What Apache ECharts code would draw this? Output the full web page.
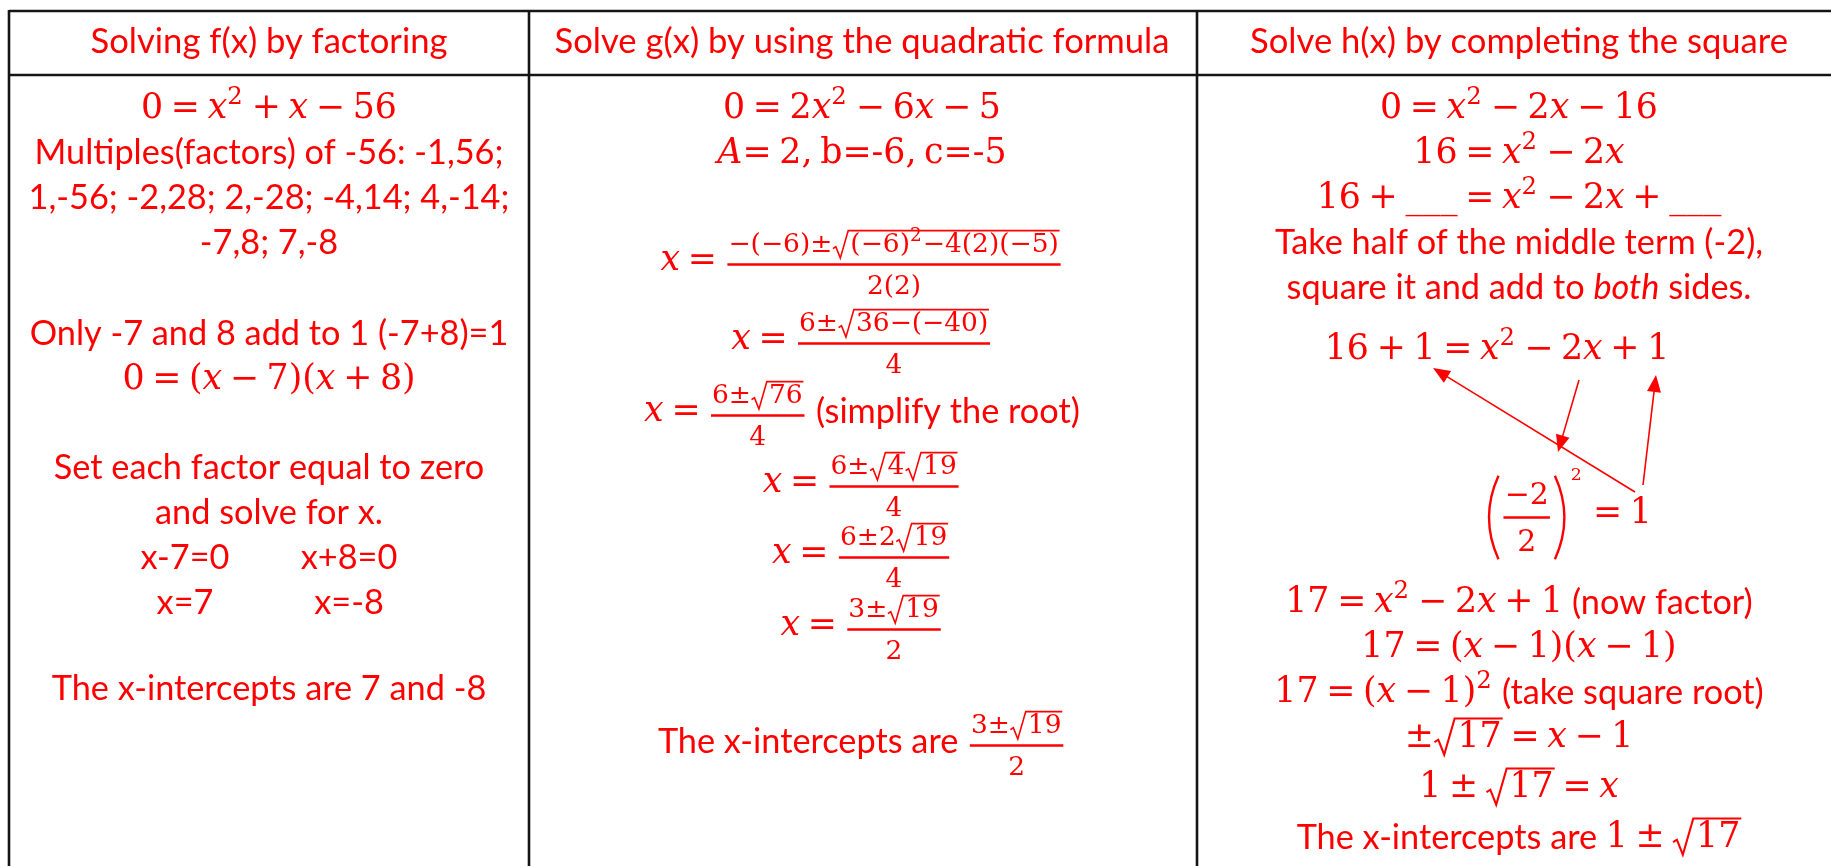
<!DOCTYPE html>
<html>
<head>
<meta charset="utf-8">
<script src="https://cdn.jsdelivr.net/npm/echarts@6/dist/echarts.min.js"></script>
<style>
html, body { margin: 0; padding: 0; background: #fff; }
#chart { width: 1831px; height: 866px; }
</style>
</head>
<body>
<div id="chart"></div>
<script>
// ---- table content ----
var headers = ['Solving f(x) by factoring', 'Solve g(x) by using the quadratic formula', 'Solve h(x) by completing the square'];

// plain string = text, {m} = math (x^2, √{..}), {f:[num,den]} = fraction, {i} = italic text
var factoringLines = [
	{m: '0 = x^2 + x − 56'},
	'Multiples(factors) of -56: -1,56;',
	'1,-56; -2,28; 2,-28; -4,14; 4,-14;',
	'-7,8; 7,-8',
	'Only -7 and 8 add to 1 (-7+8)=1',
	{m: '0 = (x − 7)(x + 8)'},
	'Set each factor equal to zero',
	'and solve for x.',
	{pair: ['x-7=0', 'x+8=0']},
	{pair: ['x=7', 'x=-8']},
	'The x-intercepts are 7 and -8'
];

var formulaLines = [
	{m: '0 = 2x^2 − 6x − 5'},
	{m: 'A= 2, b=-6, c=-5'},
	[{m: 'x = '}, {f: ['−(−6)±√{(−6)^2−4(2)(−5)}', '2(2)']}],
	[{m: 'x = '}, {f: ['6±√{36−(−40)}', '4']}],
	[{m: 'x = '}, {f: ['6±√{76}', '4']}, ' (simplify the root)'],
	[{m: 'x = '}, {f: ['6±√{4}√{19}', '4']}],
	[{m: 'x = '}, {f: ['6±2√{19}', '4']}],
	[{m: 'x = '}, {f: ['3±√{19}', '2']}],
	['The x-intercepts are ', {f: ['3±√{19}', '2']}]
];

var squareLines = [
	{m: '0 = x^2 − 2x − 16'},
	{m: '16 = x^2 − 2x'},
	{m: '16 + ___ = x^2 − 2x + ___'},
	'Take half of the middle term (-2),',
	['square it and add to ', {i: 'both'}, ' sides.'],
	{m: '16 + 1 = x^2 − 2x + 1'},
	[{lp: 1}, {f: ['−2', '2'], big: 1}, {rp: 1}, {bigSup: '2'}, {m: ' = 1'}],
	[{m: '17 = x^2 − 2x + 1'}, ' (now factor)'],
	{m: '17 = (x − 1)(x − 1)'},
	[{m: '17 = (x − 1)^2'}, ' (take square root)'],
	{m: '±√{17} = x − 1'},
	{m: '1 ± √{17} = x'},
	['The x-intercepts are ', {m: '1 ± √{17}'}]
];

// ---- layout ----
var colX = [9, 529, 1197];
var colCenter = [269, 862, 1519];
var headerY = 42;
var factoringRowY = [109, 153, 198, 243, 334, 380, 468, 513, 558, 603, 689];
var formulaRowY = [109, 154, 261, 340, 412, 483, 554, 626, 742];
var squareRowY = [109, 154, 199, 243, 288, 350, 514, 603, 648, 693, 738, 788, 838];
var squareRowDx = [0, 0, 0, 0, 0, -22, 50, 0, 0, 0, 0, 0, 0];
var PAIR_OFF = [-84, 80];
var arrows = [[1635, 492, 1433, 368], [1579, 380, 1558, 452], [1643, 485, 1656, 375]];

var RED = '#ff0000';
var SANS = 'Lato';
var MATH = '"DejaVu Serif"';
var ctx = document.createElement('canvas').getContext('2d');

function font(fam, size, italic) {
	return (italic ? 'italic ' : '') + size.toFixed(2) + 'px ' + fam;
}
function measure(t, f) {
	ctx.font = f;
	return ctx.measureText(t).width;
}
function widthOf(items) {
	return items.reduce(function (a, it) { return a + it.w; }, 0);
}

//math markup -> items, spaces become narrow math gaps
function mathItems(str, s) {
	var items = [], buf = '', i = 0, f;
	function flush() {
		if (buf) {
			f = font(MATH, s);
			items.push({k: 't', text: buf, font: f, w: measure(buf, f), dy: 0});
			buf = '';
		}
	}
	while (i < str.length) {
		var c = str[i];
		if (c === ' ') {
			flush();
			items.push({k: 'gap', w: 0.22 * s});
			i++;
		} else if (c === '^') {
			flush();
			f = font(MATH, s * 0.7);
			items.push({k: 't', text: str[i + 1], font: f, w: measure(str[i + 1], f) + s * 0.04, dy: -0.34 * s});
			i += 2;
		} else if (c === '√') {
			flush();
			var end = str.indexOf('}', i);
			var inner = mathItems(str.slice(i + 2, end), s);
			items.push({k: 'sqrt', inner: inner, s: s, w: 0.68 * s + widthOf(inner) + 0.03 * s});
			i = end + 1;
		} else if (c === 'x' || c === 'A') {
			flush();
			f = font(MATH, s, true);
			items.push({k: 't', text: c, font: f, w: measure(c, f), dy: 0});
			i++;
		} else {
			buf += c;
			i++;
		}
	}
	flush();
	return items;
}

var sansSize = 36 * 469 / measure('Multiples(factors) of -56: -1,56;', font(SANS, 36));
var headSize = 36 * 615 / measure(headers[1], font(SANS, 36));
var mathSize = 36 * 278 / widthOf(mathItems('0 = 2x^2 − 6x − 5', 36));
var fracSize = mathSize * 0.76;

function runItems(run) {
	var f;
	if (typeof run === 'string') {
		f = font(SANS, sansSize);
		return [{k: 't', text: run, font: f, w: measure(run, f), dy: 0}];
	}
	if (run.i) {
		f = font(SANS, sansSize, true);
		return [{k: 't', text: run.i, font: f, w: measure(run.i, f), dy: 0}];
	}
	if (run.m) return mathItems(run.m, mathSize);
	if (run.f) {
		var fs = run.big ? mathSize * 0.86 : fracSize;
		var num = mathItems(run.f[0], fs), den = mathItems(run.f[1], fs);
		var nw = widthOf(num), dw = widthOf(den);
		var bw = Math.max(nw, dw) + fs * 0.08;
		var pad = mathSize * 0.08;
		return [{k: 'frac', num: num, den: den, nw: nw, dw: dw, bw: bw, pad: pad, fs: fs, w: bw + 2 * pad}];
	}
	if (run.lp || run.rp) return [{k: 'paren', left: !!run.lp, w: mathSize * 0.42}];
	if (run.bigSup) {
		f = font(MATH, mathSize * 0.5);
		return [{k: 't', text: run.bigSup, font: f, w: measure(run.bigSup, f) + mathSize * 0.2, dx: mathSize * 0.1, dy: -mathSize * 1.1}];
	}
	return [];
}

function txt(t, f, x, y) {
	return {
		type: 'text', x: x, y: y, silent: true,
		style: {text: t, font: f, fill: RED, textAlign: 'left', textVerticalAlign: 'middle', align: 'left', verticalAlign: 'middle'}
	};
}
function seg(x1, y1, x2, y2, w, color) {
	return {type: 'line', silent: true, shape: {x1: x1, y1: y1, x2: x2, y2: y2}, style: {stroke: color || RED, lineWidth: w}};
}

function emit(items, x, cy, out) {
	items.forEach(function (it) {
		if (it.k === 't') {
			out.push(txt(it.text, it.font, x + (it.dx || 0), cy + it.dy));
		} else if (it.k === 'sqrt') {
			var s = it.s, top = cy - 0.56 * s;
			out.push({
				type: 'polyline', silent: true,
				shape: {points: [[x + 0.02 * s, cy + 0.12 * s], [x + 0.13 * s, cy + 0.05 * s], [x + 0.3 * s, cy + 0.48 * s], [x + 0.6 * s, top], [x + it.w, top]]},
				style: {stroke: RED, fill: null, lineWidth: Math.max(1.6, s * 0.06)}
			});
			emit(it.inner, x + 0.68 * s, cy, out);
		} else if (it.k === 'frac') {
			var by = cy + mathSize * 0.1, bx = x + it.pad;
			out.push(seg(bx, by, bx + it.bw, by, 2.3));
			emit(it.num, bx + (it.bw - it.nw) / 2, by - 0.72 * it.fs, out);
			emit(it.den, bx + (it.bw - it.dw) / 2, by + 0.86 * it.fs, out);
		} else if (it.k === 'paren') {
			var py = cy + mathSize * 0.1, h = mathSize * 1.2;
			var xa = it.left ? x + it.w * 0.85 : x + it.w * 0.15;
			var cpx = it.left ? x - it.w * 0.45 : x + it.w * 1.45;
			out.push({
				type: 'bezierCurve', silent: true,
				shape: {x1: xa, y1: py - h, x2: xa, y2: py + h, cpx1: cpx, cpy1: py},
				style: {stroke: RED, fill: null, lineWidth: 2.4}
			});
		}
		x += it.w;
	});
	return x;
}

function layoutRow(line, cx, cy, out) {
	if (line.pair) {
		var f = font(SANS, sansSize);
		line.pair.forEach(function (t, k) {
			out.push(txt(t, f, cx + PAIR_OFF[k] - measure(t, f) / 2, cy));
		});
		return;
	}
	var runs = Array.isArray(line) ? line : [line];
	var items = [].concat.apply([], runs.map(runItems));
	emit(items, cx - widthOf(items) / 2, cy, out);
}

function arrow(a, out) {
	var dx = a[2] - a[0], dy = a[3] - a[1], L = Math.sqrt(dx * dx + dy * dy);
	var ux = dx / L, uy = dy / L, hl = 17, hw = 7;
	var bx = a[2] - ux * hl, by = a[3] - uy * hl;
	out.push(seg(a[0], a[1], bx + ux * 2, by + uy * 2, 1.6));
	out.push({
		type: 'polygon', silent: true,
		shape: {points: [[a[2], a[3]], [bx - uy * hw, by + ux * hw], [bx + uy * hw, by - ux * hw]]},
		style: {fill: RED}
	});
}

var elements = [];
// grid lines
var LINE = '#151515';
elements.push(seg(colX[0], 11, 1831, 11, 2.6, LINE));
elements.push(seg(colX[0], 75, 1831, 75, 2.6, LINE));
colX.forEach(function (x) {
	elements.push(seg(x, 10, x, 866, 2.6, LINE));
});

headers.forEach(function (h, k) {
	var f = font(SANS, headSize);
	elements.push(txt(h, f, colCenter[k] - measure(h, f) / 2, headerY));
});

factoringLines.forEach(function (line, k) {
	layoutRow(line, colCenter[0], factoringRowY[k], elements);
});
formulaLines.forEach(function (line, k) {
	layoutRow(line, colCenter[1], formulaRowY[k], elements);
});
squareLines.forEach(function (line, k) {
	layoutRow(line, colCenter[2] + squareRowDx[k], squareRowY[k], elements);
});
arrows.forEach(function (a) { arrow(a, elements); });

var chart = echarts.init(document.getElementById('chart'));
chart.setOption({
	animation: false,
	backgroundColor: '#ffffff',
	graphic: {elements: elements}
});
</script>
</body>
</html>
